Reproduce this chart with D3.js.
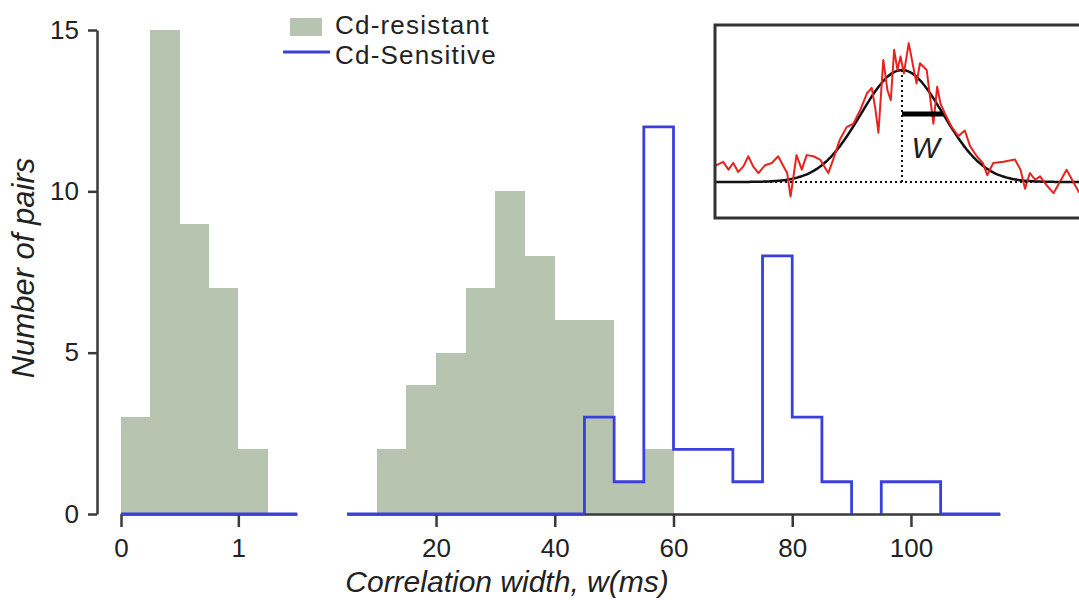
<!DOCTYPE html>
<html>
<head>
<meta charset="utf-8">
<script src="https://cdn.jsdelivr.net/npm/d3@7"></script>
<style>
  html, body { margin: 0; padding: 0; background: #fff; }
  svg { display: block; }
  text { font-family: "Liberation Sans", Arial, Helvetica, sans-serif; fill: #222; }
</style>
</head>
<body>
<svg id="chart" width="1079" height="600"></svg>
<script>
// Histogram bin edges and counts (correlation width, ms)
const resistantShortEdges = [0, 0.25, 0.5, 0.75, 1.0, 1.25];
const resistantShortCounts = [3, 15, 9, 7, 2];
const resistantLongEdges = [10, 15, 20, 25, 30, 35, 40, 45, 50, 55, 60];
const resistantLongCounts = [2, 4, 5, 7, 10, 8, 6, 6, 1, 2];
const sensitiveEdges = [45, 50, 55, 60, 65, 70, 75, 80, 85, 90, 95, 100, 105];
const sensitiveCounts = [3, 1, 12, 2, 2, 1, 8, 3, 1, 0, 1, 1];

// Axis ticks
const yTicks = [0, 5, 10, 15];
const shortTicks = [0, 1];
const longTicks = [20, 40, 60, 80, 100];

// Legend entries
const legendLabels = ["Cd-resistant", "Cd-Sensitive"];

// Example cross-correlogram for the inset (lag, normalised count)
const insetLag = [-50, -49.6, -47.8, -46.4, -45.1, -43.8, -42.4, -41.1, -39.8, -38.4, -36.6, -34.8, -33.1,
  -31.7, -30.7, -29.8, -28.2, -26.8, -25.5, -23.7, -21.9, -19.7, -18.4, -16.6, -14.8, -13.0, -11.2,
  -9.4, -8.1, -7.2, -6.3, -5.0, -3.9, -3.0, -2.1, -1.2, -0.4, 0.5, 1.8, 3.0, 3.9, 4.8, 6.6, 8.4, 9.4,
  10.3, 11.5, 13.3, 15.1, 16.8, 18.2, 20.0, 21.6, 22.8, 24.4, 27.1, 30.2, 31.7, 32.9, 34.2, 35.6,
  36.9, 38.7, 40.5, 42.2, 44.0, 45.8, 47.3, 50];
const insetSignal = [0.14, 0.15, 0.18, 0.11, 0.17, 0.09, 0.14, 0.23, 0.14, 0.08, 0.15, 0.17, 0.23,
  0.14, 0.08, -0.13, 0.24, 0.11, 0.24, 0.23, 0.20, 0.08, 0.20, 0.38, 0.49, 0.52, 0.64,
  0.79, 0.84, 0.67, 0.44, 1.09, 0.82, 0.73, 1.18, 1.00, 1.12, 0.97, 1.24, 1.03, 0.88, 1.06, 1.00, 0.52, 0.85,
  0.70, 0.61, 0.49, 0.41, 0.46, 0.32, 0.23, 0.17, 0.06, 0.17, 0.18, 0.20, 0.11, -0.06, 0.08, 0.02,
  0.05, -0.03, -0.10, 0.00, 0.11, 0.00, -0.09, 0.03];
// Gaussian fit parameters for the inset (centre, width w, amplitude)
const fitCenter = 0, fitWidth = 11, fitAmp = 1;

const AXIS = "#3a3a3a";
const FILL = "#b7c4b0";
const BLUE = "#3b3fdc";
const RED = "#e8231f";

const svg = d3.select("#chart");

const y = d3.scaleLinear().domain([0, 15]).range([514, 30]);
const xShort = d3.scaleLinear().domain([0, 1.5]).range([121, 297]);
const xLong = d3.scaleLinear().domain([5, 115]).range([347, 1000]);

function bins(edges, counts) {
  return counts.map((c, i) => ({ x0: edges[i], x1: edges[i + 1], n: c }));
}

// Cd-resistant filled histogram
const gFill = svg.append("g").attr("shape-rendering", "crispEdges");
gFill.selectAll("rect.short").data(bins(resistantShortEdges, resistantShortCounts)).join("rect")
  .attr("x", d => xShort(d.x0)).attr("width", d => xShort(d.x1) - xShort(d.x0))
  .attr("y", d => y(d.n)).attr("height", d => y(0) - y(d.n))
  .attr("fill", FILL);
gFill.selectAll("rect.long").data(bins(resistantLongEdges, resistantLongCounts)).join("rect")
  .attr("x", d => xLong(d.x0)).attr("width", d => xLong(d.x1) - xLong(d.x0))
  .attr("y", d => y(d.n)).attr("height", d => y(0) - y(d.n))
  .attr("fill", FILL);

// Axes
function styleAxis(g) {
  g.selectAll(".domain").attr("stroke", AXIS).attr("stroke-width", 2.5);
  g.selectAll(".tick line").attr("stroke", AXIS).attr("stroke-width", 2.5);
  g.selectAll(".tick text").attr("font-size", 26).attr("fill", "#222")
    .attr("font-family", "'Liberation Sans', Arial, Helvetica, sans-serif");
}

svg.append("g").attr("transform", "translate(97,0)")
  .call(d3.axisLeft(y).tickValues(yTicks).tickSize(9).tickSizeOuter(0).tickPadding(9))
  .call(styleAxis);

svg.append("g").attr("transform", "translate(0,514)")
  .call(d3.axisBottom(xShort).tickValues(shortTicks).tickFormat(d3.format("d"))
    .tickSize(13).tickSizeOuter(0).tickPadding(12))
  .call(styleAxis);

svg.append("g").attr("transform", "translate(0,514)")
  .call(d3.axisBottom(xLong).tickValues(longTicks).tickFormat(d3.format("d"))
    .tickSize(13).tickSizeOuter(0).tickPadding(12))
  .call(styleAxis);

// Cd-sensitive outline histogram: one closed step outline per run of non-empty bins
const sens = bins(sensitiveEdges, sensitiveCounts);
const runs = [];
let cur = null;
sens.forEach(b => {
  if (b.n > 0) { if (!cur) { cur = []; runs.push(cur); } cur.push(b); }
  else cur = null;
});
const line = d3.line().x(d => d[0]).y(d => d[1]);
const gSens = svg.append("g").attr("fill", "none").attr("stroke", BLUE)
  .attr("stroke-width", 2.8).attr("stroke-linejoin", "miter");
runs.forEach(r => {
  const pts = [[xLong(r[0].x0), y(0)]];
  r.forEach(b => { pts.push([xLong(b.x0), y(b.n)]); pts.push([xLong(b.x1), y(b.n)]); });
  pts.push([xLong(r[r.length - 1].x1), y(0)]);
  gSens.append("path").attr("d", line(pts));
});
// zero-count stretches of the sensitive distribution at either end of each panel
const sensFirst = sensitiveEdges[0], sensLast = sensitiveEdges[sensitiveEdges.length - 1];
gSens.append("path").attr("d", line([[xShort(0), y(0)], [xShort(1.5), y(0)]]));
gSens.append("path").attr("d", line([[xLong(5), y(0)], [xLong(sensFirst), y(0)]]));
gSens.append("path").attr("d", line([[xLong(sensLast), y(0)], [xLong(115), y(0)]]));

// Axis titles
svg.append("text")
  .attr("transform", "translate(34,268) rotate(-90)")
  .attr("text-anchor", "middle").attr("font-size", 31).attr("font-style", "italic")
  .text("Number of pairs");
svg.append("text")
  .attr("x", 507).attr("y", 592)
  .attr("text-anchor", "middle").attr("font-size", 30).attr("font-style", "italic")
  .text("Correlation width, w(ms)");

// Legend
const lg = svg.append("g");
lg.append("rect").attr("x", 290).attr("y", 18).attr("width", 32).attr("height", 18).attr("fill", FILL);
lg.append("line").attr("x1", 283).attr("x2", 330).attr("y1", 52).attr("y2", 52)
  .attr("stroke", BLUE).attr("stroke-width", 3);
lg.selectAll("text").data(legendLabels).join("text")
  .attr("x", 335).attr("y", (d, i) => 34 + i * 30)
  .attr("font-size", 26).attr("letter-spacing", 1.2).text(d => d);

// Inset: example correlogram with Gaussian fit
const ix = d3.scaleLinear().domain([-50, 50]).range([715, 1089]);
const iy = d3.scaleLinear().domain([0, 1]).range([182, 70]);
const inset = svg.append("g");
inset.append("clipPath").attr("id", "insetClip")
  .append("rect").attr("x", 715).attr("y", 25).attr("width", 374).attr("height", 193);
inset.append("rect").attr("x", 715).attr("y", 25).attr("width", 374).attr("height", 193)
  .attr("fill", "#fff");
const ic = inset.append("g").attr("clip-path", "url(#insetClip)");

const fitLags = d3.range(-50, 50.5, 0.5);
const fitLine = d3.line()
  .x(d => ix(d))
  .y(d => iy(fitAmp * Math.exp(-0.5 * Math.pow((d - fitCenter) / fitWidth, 2))))
  .curve(d3.curveBasis);

ic.append("path").attr("d", fitLine(fitLags)).attr("fill", "none")
  .attr("stroke", "#111").attr("stroke-width", 2.5);
ic.append("path")
  .attr("d", d3.line().x((d, i) => ix(insetLag[i])).y(d => iy(d))(insetSignal))
  .attr("fill", "none").attr("stroke", RED).attr("stroke-width", 2).attr("stroke-linejoin", "round");
ic.append("line").attr("x1", ix(-50)).attr("x2", ix(50)).attr("y1", iy(0)).attr("y2", iy(0))
  .attr("stroke", "#111").attr("stroke-width", 2).attr("stroke-dasharray", "2,3");
ic.append("line").attr("x1", ix(fitCenter)).attr("x2", ix(fitCenter))
  .attr("y1", iy(0)).attr("y2", iy(fitAmp))
  .attr("stroke", "#111").attr("stroke-width", 2).attr("stroke-dasharray", "2,3");
const wLevel = fitAmp * Math.exp(-0.5);
ic.append("line").attr("x1", ix(fitCenter)).attr("x2", ix(fitCenter + fitWidth))
  .attr("y1", iy(wLevel)).attr("y2", iy(wLevel))
  .attr("stroke", "#000").attr("stroke-width", 5);
ic.append("text").attr("x", ix(fitCenter + 6.3)).attr("y", 158)
  .attr("text-anchor", "middle").attr("font-size", 30).attr("font-style", "italic")
  .attr("fill", "#222").text("W");
inset.append("rect").attr("x", 715).attr("y", 25).attr("width", 374).attr("height", 193)
  .attr("fill", "none").attr("stroke", "#333").attr("stroke-width", 3);
</script>
</body>
</html>
